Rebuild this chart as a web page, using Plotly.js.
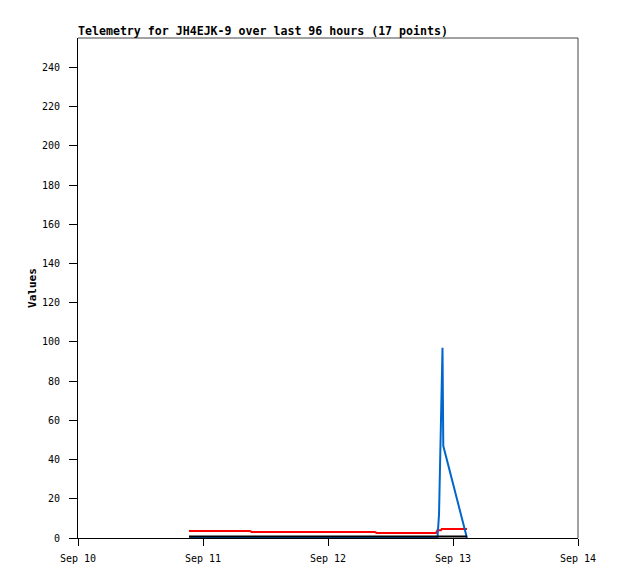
<!DOCTYPE html>
<html>
<head>
<meta charset="utf-8">
<script src="https://cdn.plot.ly/plotly-3.0.1.min.js"></script>
<style>html,body{margin:0;padding:0;background:#fff;}#chart{width:618px;height:579px;}</style>
</head>
<body>
<div id="chart"></div>
<script>
const times = [
  "2023-09-10 21:19", "2023-09-11 03:16", "2023-09-11 09:01", "2023-09-11 09:19",
  "2023-09-11 21:07", "2023-09-12 03:04", "2023-09-12 09:01", "2023-09-12 09:19",
  "2023-09-12 20:44", "2023-09-12 21:01", "2023-09-12 21:19", "2023-09-12 21:30",
  "2023-09-12 21:42", "2023-09-12 21:50", "2023-09-12 21:59", "2023-09-12 22:08",
  "2023-09-13 02:41"
];
const redValues   = [3.6, 3.6, 3.6, 3.1, 3.1, 3.1, 3.1, 2.6, 2.6, 4.0, 4.0, 4.0, 4.0, 4.6, 4.6, 4.6, 4.6];
const blueValues  = [0, 0, 0, 0, 0, 0, 0, 0, 0, 0, 12, 36, 60, 84, 97, 47, 0];
const blackValues = [0.8, 0.8, 0.8, 0.8, 0.8, 0.8, 0.8, 0.8, 0.8, 0.8, 0.8, 0.8, 0.8, 0.8, 0.8, 0.8, 0.8];
const xTickVals = ["2023-09-10", "2023-09-11", "2023-09-12", "2023-09-13", "2023-09-14"];
const xTickText = ["Sep 10", "Sep 11", "Sep 12", "Sep 13", "Sep 14"];

const mono = "DejaVu Sans Mono, monospace";
const traces = [
  {x: times, y: redValues, mode: "lines", line: {color: "#ff0000", width: 2}, hoverinfo: "skip"},
  {x: times, y: blueValues, mode: "lines", line: {color: "#0066cc", width: 2}, hoverinfo: "skip"},
  {x: times, y: blackValues, mode: "lines", line: {color: "#000000", width: 2}, hoverinfo: "skip"}
];
const layout = {
  width: 618, height: 579,
  margin: {l: 78, r: 40, t: 38, b: 41, pad: 0},
  paper_bgcolor: "#ffffff", plot_bgcolor: "#ffffff",
  showlegend: false,
  font: {family: mono, size: 10, color: "#000"},
  title: {
    text: "<b>Telemetry for JH4EJK-9 over last 96 hours (17 points)</b>",
    font: {family: mono, size: 11.6, color: "#000"},
    xref: "paper", x: 0, xanchor: "left",
    yref: "container", y: 1 - 31/579, yanchor: "middle"
  },
  xaxis: {
    type: "date",
    range: ["2023-09-10", "2023-09-14"],
    tickmode: "array", tickvals: xTickVals, ticktext: xTickText,
    ticks: "outside", ticklen: 7, tickcolor: "#000", tickwidth: 1,
    ticklabelstandoff: 4,
    showline: true, linecolor: "#000", linewidth: 1,
    showgrid: false, zeroline: false,
    tickfont: {family: mono, size: 10, color: "#000"}
  },
  yaxis: {
    range: [0, 255],
    tick0: 0, dtick: 20,
    ticks: "outside", ticklen: 8, tickcolor: "#000", tickwidth: 1,
    ticklabelstandoff: 7,
    showline: true, linecolor: "#000", linewidth: 1,
    showgrid: false, zeroline: false,
    tickfont: {family: mono, size: 10, color: "#000"},
    title: {text: "<b>Values</b>", font: {family: mono, size: 11, color: "#000"}, standoff: 3}
  },
  shapes: [
    {type: "line", xref: "paper", yref: "paper", x0: 0, x1: 1, y0: 1, y1: 1, line: {color: "#444", width: 1}},
    {type: "line", xref: "paper", yref: "paper", x0: 1, x1: 1, y0: 0, y1: 1, line: {color: "#444", width: 1}}
  ]
};
Plotly.newPlot("chart", traces, layout, {staticPlot: true, displayModeBar: false});
</script>
</body>
</html>
